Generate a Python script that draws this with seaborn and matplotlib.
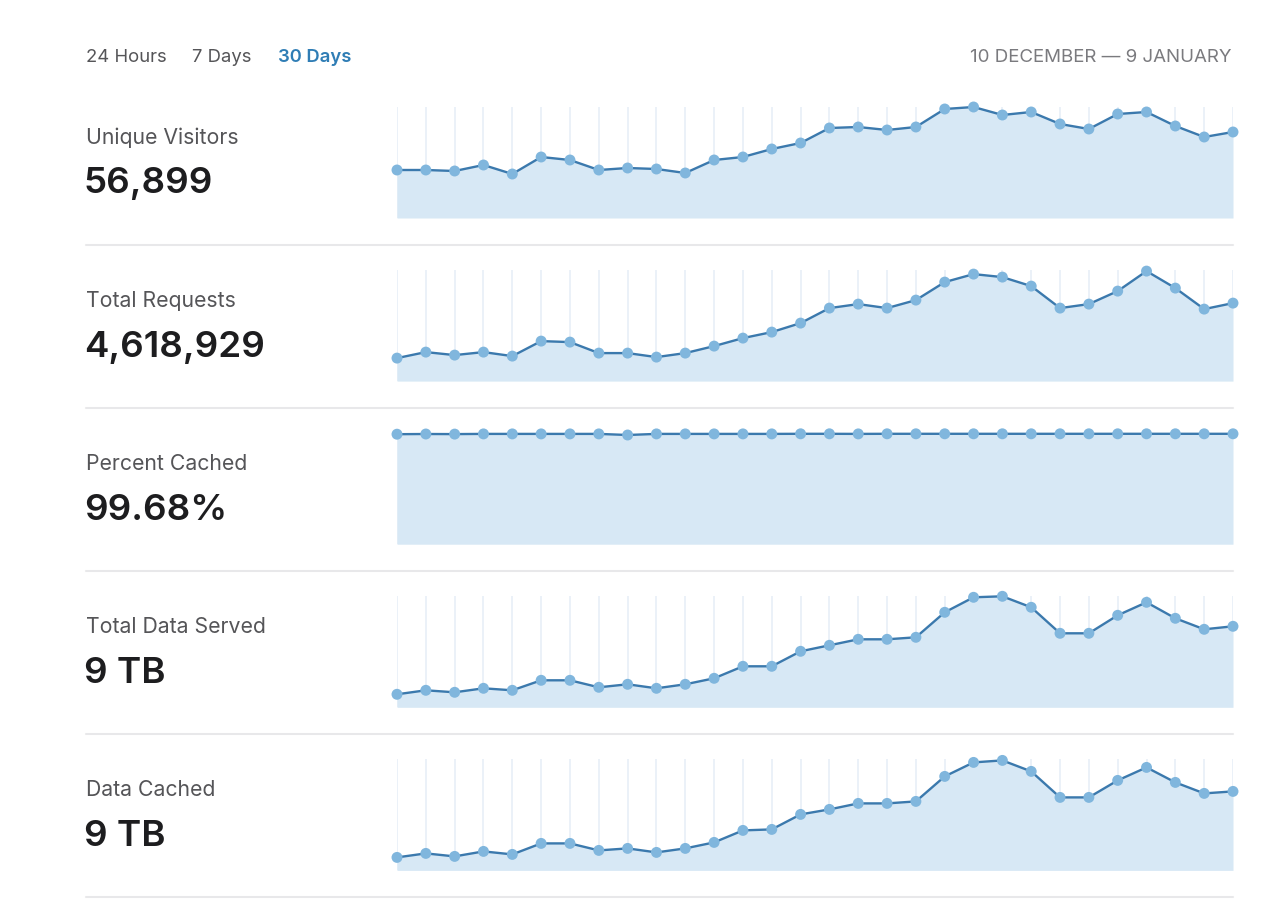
import numpy as np
import pandas as pd
import matplotlib
matplotlib.use("Agg")
import matplotlib.pyplot as plt
import seaborn as sns

days = list(range(30))
visitors = [48, 48, 47, 53, 44, 61, 58, 48, 50, 49, 45, 58, 61, 69, 75,
            90, 91, 88, 91, 109, 111, 103, 106, 94, 89, 104, 106, 92, 81, 86]
requests = [23, 29, 26, 29, 25, 40, 39, 28, 28, 24, 28, 35, 43, 49, 58,
            73, 77, 73, 81, 99, 107, 104, 95, 73, 77, 90, 110, 93, 72, 78]
pct_cached = [110.0, 110.2, 110.1, 110.3, 110.3, 110.3, 110.3, 110.3, 109.2, 110.3,
              110.3, 110.3, 110.3, 110.3, 110.4, 110.4, 110.3, 110.4, 110.4, 110.4,
              110.4, 110.4, 110.4, 110.4, 110.4, 110.4, 110.4, 110.4, 110.4, 110.4]
data_served = [13, 17, 15, 19, 17, 27, 27, 20, 23, 19, 23, 29, 41, 41, 56,
               62, 68, 68, 70, 95, 110, 111, 100, 74, 74, 92, 105, 89, 78, 81]
data_cached = [13, 17, 14, 19, 16, 27, 27, 20, 22, 18, 22, 28, 40, 41, 56,
               61, 67, 67, 69, 94, 108, 110, 99, 73, 73, 90, 103, 88, 77, 79]

metric_names = ["Unique Visitors", "Total Requests", "Percent Cached",
                "Total Data Served", "Data Cached"]
metric_totals = ["56,899", "4,618,929", "99.68%", "9 TB", "9 TB"]
series = [visitors, requests, pct_cached, data_served, data_cached]

tabs = ["24 Hours", "7 Days", "30 Days"]
date_range = "10 DECEMBER \u2014 9 JANUARY"

sns.set_theme(style="white")
plt.rcParams["font.family"] = ["Inter", "DejaVu Sans"]

W, H = 1280, 909
fig = plt.figure(figsize=(W / 100, H / 100), dpi=100)
fig.patch.set_facecolor("white")

line_col = "#3b79ad"
dot_col = "#80b6dd"
fill_col = "#d7e8f5"
grid_col = "#ebf1f8"
label_col = "#555558"
value_col = "#1d1d1f"


def fy(py):
    return 1 - py / H


# header
tab_x = [86, 192, 278]
for t, x in zip(tabs, tab_x):
    active = t == "30 Days"
    fig.text(x / W, fy(61.7), t, fontsize=13.3, va="baseline", ha="left",
             color="#2f7db5" if active else label_col,
             fontweight="semibold" if active else "normal")
fig.text(1232 / W, fy(61.7), date_range, fontsize=13.5, va="baseline",
         ha="right", color="#7a7a7e")

left_px, right_px = 397, 1233
row_step = 163.1
for i, (name, total, vals) in enumerate(zip(metric_names, metric_totals, series)):
    off = i * row_step
    bottom_px = 218 + off
    top_px = 107 + off
    ax = fig.add_axes([left_px / W, fy(bottom_px), (right_px - left_px) / W,
                       (bottom_px - top_px) / H])
    df = pd.DataFrame({"day": days, "value": vals})
    ax.vlines(df["day"], 0, 111, color=grid_col, linewidth=1.4, zorder=0)
    ax.fill_between(df["day"], 0, df["value"], color=fill_col, linewidth=0, zorder=1)
    sns.lineplot(data=df, x="day", y="value", ax=ax, color=line_col,
                 linewidth=1.7, zorder=2, clip_on=False)
    sns.scatterplot(data=df, x="day", y="value", ax=ax, color=dot_col, s=62,
                    edgecolor="none", zorder=3, clip_on=False)
    ax.set_xlim(0, 29)
    ax.set_ylim(0, 111)
    ax.axis("off")

    fig.text(86 / W, fy(143.5 + off), name, fontsize=15.3, va="baseline",
             ha="left", color=label_col)
    fig.text(84 / W, fy(193.5 + off), total, fontsize=26.5, va="baseline",
             ha="left", color=value_col, fontweight="semibold")

    sep_y = 245 + i * 163
    fig.add_artist(plt.Line2D([86 / W, 1233 / W], [fy(sep_y), fy(sep_y)],
                              color="#e8e8ea", linewidth=1.5))

fig.savefig("out.png", dpi=100, facecolor="white")
